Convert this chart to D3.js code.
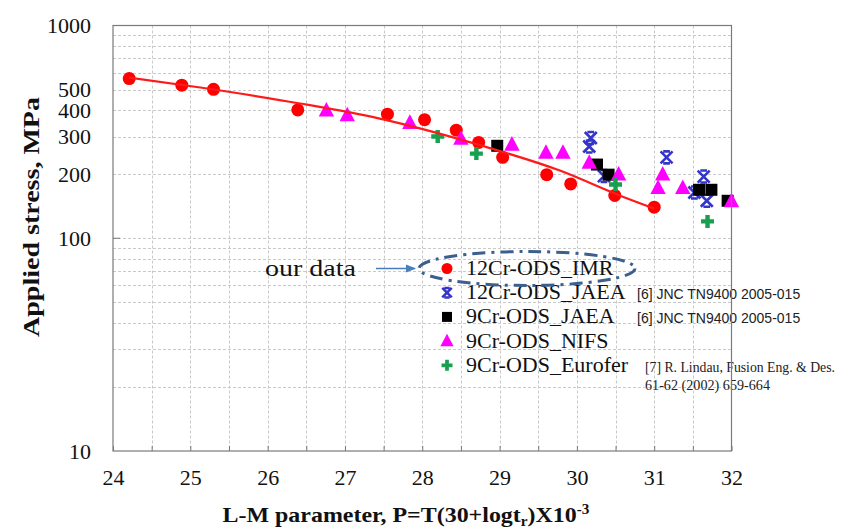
<!DOCTYPE html>
<html>
<head>
<meta charset="utf-8">
<script src="https://cdn.jsdelivr.net/npm/d3@7"></script>
<style>
  body { margin: 0; background: #fff; }
  svg { display: block; }
</style>
</head>
<body>
<svg id="chart" width="854" height="532"></svg>
<script>
// Larson-Miller parameter ticks and stress tick labels
const xTickValues = [24, 25, 26, 27, 28, 29, 30, 31, 32];
const yTickLabels = [10, 100, 200, 300, 400, 500, 1000];

// 12Cr-ODS_IMR (red circles)
const imrP = [24.21, 24.89, 25.30, 26.39, 27.55, 28.03, 28.44, 28.73, 29.04, 29.61, 29.92, 30.49, 31.00];
const imrS = [563, 524, 501, 401, 383, 361, 322, 282, 240, 199, 180, 159, 140];

// 12Cr-ODS_JAEA (blue crosses)
const jaea12P = [30.18, 30.16, 30.35, 31.16, 31.52, 31.64, 31.68];
const jaea12S = [296, 270, 196, 240, 164, 195, 150];

// 9Cr-ODS_JAEA (black squares)
const jaea9P = [28.97, 30.26, 30.41, 31.58, 31.74, 31.95];
const jaea9S = [272, 222, 199, 169, 169, 150];

// 9Cr-ODS_NIFS (magenta triangles)
const nifsP = [26.76, 27.03, 27.84, 28.50, 29.16, 29.60, 29.82, 30.16, 30.54, 31.05, 31.11, 31.37, 32.00];
const nifsS = [398, 378, 348, 293, 275, 252, 252, 226, 199, 172, 199, 172, 149];

// 9Cr-ODS_Eurofer (green plus)
const euroP = [28.20, 28.70, 30.50, 31.69];
const euroS = [301, 250, 179, 120];

// trend line through the IMR data
const fitP = [24.21, 25.13, 26.42, 27.45, 28.73, 29.78, 30.56, 31.00];
const fitS = [569, 511, 430, 365, 275, 208, 158.5, 138];

const seriesNames = ["12Cr-ODS_IMR", "12Cr-ODS_JAEA", "9Cr-ODS_JAEA", "9Cr-ODS_NIFS", "9Cr-ODS_Eurofer"];
const seriesColors = ["#ff0000", "#3535c8", "#000000", "#ff00ff", "#18a050"];
const seriesShapes = ["circle", "xmark", "square", "triangle", "plus"];

const SERIF = "'Liberation Serif', 'Times New Roman', serif";
const SANS = "'Liberation Sans', Arial, sans-serif";

const svg = d3.select("#chart");
const L = 113, R = 731.5, T = 25.5, B = 451;

const x = d3.scaleLinear().domain([24, 32]).range([L, R]);
const y = d3.scaleLog().domain([10, 1000]).range([B, T]);

// gridlines
const grid = svg.append("g").attr("stroke", "#c9c9c9").attr("stroke-width", 1)
  .attr("stroke-dasharray", "3,2");
const vGrid = d3.range(24.5, 32, 0.5);
grid.selectAll("line.v").data(vGrid).join("line")
  .attr("x1", d => Math.round(x(d)) + 0.5).attr("x2", d => Math.round(x(d)) + 0.5)
  .attr("y1", T).attr("y2", B);
const hGrid = [20, 30, 40, 50, 60, 70, 80, 90, 100, 200, 300, 400, 500, 600, 700, 800, 900];
grid.selectAll("line.h").data(hGrid).join("line")
  .attr("y1", d => Math.round(y(d)) + 0.5).attr("y2", d => Math.round(y(d)) + 0.5)
  .attr("x1", L).attr("x2", R);

// axes
const xAxis = d3.axisBottom(x).tickValues(d3.range(24, 32.01, 0.5))
  .tickSize(-5).tickPadding(18)
  .tickFormat(d => Number.isInteger(d) ? d : "");
const gx = svg.append("g").attr("transform", `translate(0,${B})`).call(xAxis);
gx.select(".domain").remove();
gx.selectAll(".tick line").attr("stroke", "#777");
gx.selectAll(".tick text").attr("font-family", SERIF).attr("font-size", 22).attr("fill", "#111");

const yAxis = d3.axisLeft(y).tickValues(yTickLabels).tickSize(0).tickPadding(22)
  .tickFormat(d3.format("d"));
const gy = svg.append("g").attr("transform", `translate(${L},0)`).call(yAxis);
gy.select(".domain").remove();
gy.selectAll(".tick text").attr("font-family", SERIF).attr("font-size", 22).attr("fill", "#111");
svg.append("g").selectAll("line").data([100]).join("line")
  .attr("x1", L).attr("x2", L + 7).attr("y1", d => y(d)).attr("y2", d => y(d))
  .attr("stroke", "#777");

// marker shapes
function markerPath(shape, s) {
  switch (shape) {
    case "triangle": return `M0,${-s * 0.62}L${s * 0.55},${s * 0.42}L${-s * 0.55},${s * 0.42}Z`;
    case "square": return `M${-s / 2},${-s / 2}h${s}v${s}h${-s}Z`;
    case "plus": {
      const a = s / 2, t = s * 0.17;
      return `M${-t},${-a}h${2 * t}v${a - t}h${a - t}v${2 * t}h${-(a - t)}v${a - t}h${-2 * t}v${-(a - t)}h${-(a - t)}v${-2 * t}h${a - t}Z`;
    }
    case "xmark": {
      const a = s / 2, c = s * 0.28;
      return `M${-a},${-a}L${a},${a}M${a},${-a}L${-a},${a}M${-c},${-a}H${c}M${-c},${a}H${c}`;
    }
  }
  return "";
}
function drawMarker(g, shape, color, cx, cy, s) {
  if (shape === "circle") {
    g.append("circle").attr("cx", cx).attr("cy", cy).attr("r", s / 2).attr("fill", color);
  } else if (shape === "xmark") {
    g.append("path").attr("d", markerPath(shape, s)).attr("transform", `translate(${cx},${cy})`)
      .attr("fill", "none").attr("stroke", color).attr("stroke-width", 2.6);
  } else {
    g.append("path").attr("d", markerPath(shape, s)).attr("transform", `translate(${cx},${cy})`)
      .attr("fill", color);
  }
}

// data series (drawn in legend order so later series sit on top)
const seriesData = [
  [imrP, imrS], [jaea12P, jaea12S], [jaea9P, jaea9S], [nifsP, nifsS], [euroP, euroS]
];
const markerSizes = [13, 12, 12, 14, 13];
const pts = svg.append("g");
seriesData.forEach(([ps, ss], i) => {
  const g = pts.append("g");
  ps.forEach((p, k) => drawMarker(g, seriesShapes[i], seriesColors[i], x(p), y(ss[k]), markerSizes[i]));
});

// trend line
const line = d3.line().x(d => x(d[0])).y(d => y(d[1])).curve(d3.curveMonotoneX);
svg.append("path").datum(fitP.map((p, i) => [p, fitS[i]]))
  .attr("d", line).attr("fill", "none").attr("stroke", "#ff1a1a").attr("stroke-width", 2.2);

// legend
const legend = svg.append("g");
const legX = 447, legTextX = 466, legBase = 275, legStep = 24.2;
const legSizes = [11, 9.5, 10, 12, 11];
seriesNames.forEach((name, i) => {
  const by = legBase + i * legStep;
  drawMarker(legend, seriesShapes[i], seriesColors[i], legX, by - 6.5, legSizes[i]);
  legend.append("text").attr("x", legTextX).attr("y", by)
    .attr("font-family", SERIF).attr("font-size", 22).attr("fill", "#111").text(name);
});

// source notes
const notes = svg.append("g").attr("fill", "#222");
notes.append("text").attr("x", 637).attr("y", legBase + legStep * 1 - 0.5)
  .attr("font-family", SANS).attr("font-size", 14).text("[6] JNC TN9400 2005-015");
notes.append("text").attr("x", 637).attr("y", legBase + legStep * 2 - 0.5)
  .attr("font-family", SANS).attr("font-size", 14).text("[6] JNC TN9400 2005-015");
notes.append("text").attr("x", 645).attr("y", 371.5)
  .attr("font-family", SERIF).attr("font-size", 14)
  .attr("textLength", 190).attr("lengthAdjust", "spacingAndGlyphs")
  .text("[7] R. Lindau, Fusion Eng. & Des.");
notes.append("text").attr("x", 645).attr("y", 389.5)
  .attr("font-family", SERIF).attr("font-size", 14)
  .attr("textLength", 125).attr("lengthAdjust", "spacingAndGlyphs")
  .text("61-62 (2002) 659-664");

// "our data" callout
svg.append("defs").append("marker").attr("id", "arrowHead")
  .attr("viewBox", "0 0 10 10").attr("refX", 9).attr("refY", 5)
  .attr("markerWidth", 7).attr("markerHeight", 7).attr("orient", "auto")
  .append("path").attr("d", "M0,1L10,5L0,9Z").attr("fill", "#4a7ebb");
svg.append("line").attr("x1", 376).attr("x2", 415).attr("y1", 268.5).attr("y2", 268.5)
  .attr("stroke", "#4a7ebb").attr("stroke-width", 1.5).attr("marker-end", "url(#arrowHead)");
svg.append("ellipse").attr("cx", 527).attr("cy", 268.5).attr("rx", 108).attr("ry", 17)
  .attr("fill", "none").attr("stroke", "#3b5f8e").attr("stroke-width", 3)
  .attr("stroke-dasharray", "13,6,3,6");
svg.append("text").attr("x", 265).attr("y", 276)
  .attr("font-family", SERIF).attr("font-size", 23).attr("fill", "#111")
  .attr("textLength", 91).attr("lengthAdjust", "spacingAndGlyphs").text("our data");

// plot border
svg.append("rect").attr("x", L).attr("y", T).attr("width", R - L).attr("height", B - T)
  .attr("fill", "none").attr("stroke", "#7a7a7a").attr("stroke-width", 1.2);

// axis titles, stretched to their drawn widths
function fitWidth(sel, cx, cy, target, rotate) {
  const w = sel.node().getComputedTextLength();
  const k = target / w;
  sel.attr("transform", `translate(${cx},${cy}) rotate(${rotate}) scale(${k},1)`);
}
const xt = svg.append("text").attr("text-anchor", "middle")
  .attr("font-family", SERIF).attr("font-weight", "bold").attr("font-size", 22).attr("fill", "#111");
xt.append("tspan").text("L-M parameter, P=T(30+logt");
xt.append("tspan").attr("font-size", 14).attr("dy", 4).text("r");
xt.append("tspan").attr("dy", -4).text(")X10");
xt.append("tspan").attr("font-size", 14).attr("dy", -8).text("-3");
fitWidth(xt, 406, 522, 367, 0);

const yt = svg.append("text").attr("text-anchor", "middle")
  .attr("font-family", SERIF).attr("font-weight", "bold").attr("font-size", 23).attr("fill", "#111")
  .text("Applied stress, MPa");
fitWidth(yt, 39, 217, 240, -90);
</script>
</body>
</html>
